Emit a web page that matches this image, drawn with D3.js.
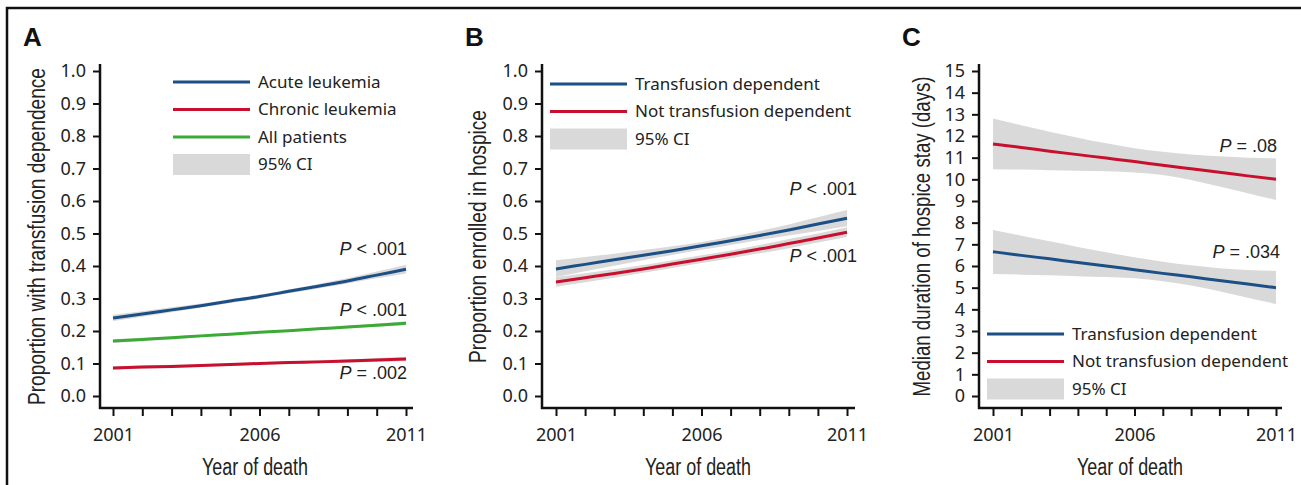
<!DOCTYPE html>
<html lang="en">
<head>
  <meta charset="UTF-8" />
  <title>Transfusion dependence and hospice</title>
  <script src="https://d3js.org/d3.v7.min.js"></script>
  <style>
    body { margin: 0; background: #fff; }
    .tick text { font-family: "Noto Sans", "Open Sans", sans-serif; font-size: 18px; fill: #222; }
    .axis-title { font-family: "Liberation Sans", Arial, sans-serif; font-size: 23px; fill: #222; }
    .legend text { font-family: "Noto Sans", "Open Sans", sans-serif; font-size: 17px; fill: #222; }
    .pval { font-family: "Liberation Sans", Arial, sans-serif; font-size: 18px; fill: #222; }
    .panel-letter { font-family: "Liberation Sans", Arial, sans-serif; font-weight: bold; font-size: 26px; fill: #111; }
  </style>
</head>
<body>
<svg id="chart" width="1301" height="485"></svg>
<script>
  const years = [2001, 2002, 2003, 2004, 2005, 2006, 2007, 2008, 2009, 2010, 2011];
  const yearLabels = [2001, 2006, 2011];

  // Panel A - proportion with transfusion dependence
  const acute     = [0.240, 0.252, 0.265, 0.278, 0.292, 0.306, 0.322, 0.338, 0.354, 0.372, 0.390];
  const acuteLo   = [0.231, 0.244, 0.258, 0.272, 0.286, 0.300, 0.316, 0.331, 0.346, 0.362, 0.377];
  const acuteHi   = [0.250, 0.261, 0.273, 0.285, 0.298, 0.312, 0.328, 0.345, 0.362, 0.383, 0.404];
  const chronic   = [0.086, 0.089, 0.091, 0.094, 0.097, 0.100, 0.103, 0.105, 0.108, 0.111, 0.114];
  const chronicLo = [0.081, 0.084, 0.087, 0.090, 0.093, 0.096, 0.099, 0.101, 0.103, 0.105, 0.107];
  const chronicHi = [0.091, 0.094, 0.096, 0.098, 0.101, 0.104, 0.107, 0.110, 0.113, 0.117, 0.121];
  const allPts    = [0.169, 0.174, 0.179, 0.185, 0.190, 0.196, 0.201, 0.207, 0.212, 0.218, 0.224];
  const allPtsLo  = [0.163, 0.169, 0.175, 0.181, 0.187, 0.193, 0.198, 0.203, 0.208, 0.213, 0.218];
  const allPtsHi  = [0.175, 0.179, 0.183, 0.188, 0.193, 0.199, 0.204, 0.210, 0.216, 0.223, 0.230];

  // Panel B - proportion enrolled in hospice
  const hospTd    = [0.391, 0.405, 0.419, 0.433, 0.447, 0.462, 0.478, 0.494, 0.511, 0.529, 0.547];
  const hospTdLo  = [0.366, 0.384, 0.401, 0.418, 0.434, 0.450, 0.465, 0.480, 0.494, 0.508, 0.522];
  const hospTdHi  = [0.418, 0.428, 0.438, 0.449, 0.461, 0.474, 0.490, 0.508, 0.528, 0.550, 0.572];
  const hospNtd   = [0.351, 0.364, 0.377, 0.391, 0.406, 0.421, 0.436, 0.452, 0.469, 0.486, 0.504];
  const hospNtdLo = [0.336, 0.350, 0.364, 0.379, 0.394, 0.409, 0.424, 0.439, 0.455, 0.472, 0.489];
  const hospNtdHi = [0.366, 0.378, 0.390, 0.403, 0.418, 0.433, 0.448, 0.465, 0.483, 0.500, 0.519];

  // Panel C - median duration of hospice stay (days)
  const stayNtd   = [11.63, 11.47, 11.30, 11.14, 10.98, 10.82, 10.65, 10.49, 10.33, 10.16, 10.00];
  const stayNtdLo = [10.47, 10.45, 10.42, 10.40, 10.37, 10.32, 10.20, 9.97, 9.67, 9.36, 9.05];
  const stayNtdHi = [12.81, 12.50, 12.20, 11.92, 11.66, 11.44, 11.27, 11.15, 11.06, 11.00, 10.97];
  const stayTd    = [6.66, 6.49, 6.33, 6.16, 6.00, 5.83, 5.66, 5.50, 5.33, 5.17, 5.00];
  const stayTdLo  = [5.63, 5.60, 5.57, 5.53, 5.49, 5.43, 5.30, 5.10, 4.83, 4.53, 4.25];
  const stayTdHi  = [7.66, 7.40, 7.14, 6.88, 6.64, 6.40, 6.20, 6.03, 5.90, 5.82, 5.77];

  const blue = "#1b4f85", red = "#c8102e", green = "#3bab35", ciGray = "#d9d9d9";

  const svg = d3.select("#chart");

  // outer frame (only top and left edges visible)
  svg.append("rect")
    .attr("x", 7).attr("y", 8)
    .attr("width", 1320).attr("height", 500)
    .attr("fill", "none").attr("stroke", "#111").attr("stroke-width", 2.5);

  const panels = [
    {
      letter: "A", left: 100, x0: 113, x1: 406, xEnd: 413,
      yMax: 1.0, yTicks: d3.range(0, 11).map(i => i / 10), fmt: d3.format(".1f"),
      yTitle: "Proportion with transfusion dependence", yTitleLen: 337, titleX: 45, xTitleX: 255,
      series: [
        { v: acute, lo: acuteLo, hi: acuteHi, color: blue },
        { v: allPts, lo: allPtsLo, hi: allPtsHi, color: green },
        { v: chronic, lo: chronicLo, hi: chronicHi, color: red }
      ],
      legend: { x: 173, y: 82, textX: 258, items: [["Acute leukemia", blue], ["Chronic leukemia", red], ["All patients", green]] },
      pvals: [["P", " < .001", 407, 255], ["P", " < .001", 407, 316], ["P", " = .002", 407, 379]]
    },
    {
      letter: "B", left: 542, x0: 556, x1: 847, xEnd: 855,
      yMax: 1.0, yTicks: d3.range(0, 11).map(i => i / 10), fmt: d3.format(".1f"),
      yTitle: "Proportion enrolled in hospice", yTitleLen: 253, titleX: 486, xTitleX: 698,
      series: [
        { v: hospTd, lo: hospTdLo, hi: hospTdHi, color: blue },
        { v: hospNtd, lo: hospNtdLo, hi: hospNtdHi, color: red }
      ],
      legend: { x: 550, y: 84, textX: 635, items: [["Transfusion dependent", blue], ["Not transfusion dependent", red]] },
      pvals: [["P", " < .001", 857, 195], ["P", " < .001", 857, 262]]
    },
    {
      letter: "C", left: 979, x0: 993, x1: 1276, xEnd: 1282,
      yMax: 15, yTicks: d3.range(0, 16), fmt: d3.format("d"),
      yTitle: "Median duration of hospice stay (days)", yTitleLen: 320, titleX: 930, xTitleX: 1130,
      series: [
        { v: stayNtd, lo: stayNtdLo, hi: stayNtdHi, color: red },
        { v: stayTd, lo: stayTdLo, hi: stayTdHi, color: blue }
      ],
      legend: { x: 987, y: 334, textX: 1072, items: [["Transfusion dependent", blue], ["Not transfusion dependent", red]] },
      pvals: [["P", " = .08", 1277, 152], ["P", " = .034", 1280, 258]]
    }
  ];

  panels.forEach(p => {
    const x = d3.scaleLinear().domain([2001, 2011]).range([p.x0, p.x1]);
    const y = d3.scaleLinear().domain([0, p.yMax]).range([396, 71]);
    const g = svg.append("g");

    g.append("text").attr("class", "panel-letter")
      .attr("x", p.left - 77).attr("y", 46).text(p.letter);

    // confidence bands first, then lines on top
    p.series.forEach(s => {
      const area = d3.area()
        .x((d, i) => x(years[i]))
        .y0((d, i) => y(s.lo[i]))
        .y1((d, i) => y(s.hi[i]))
        .curve(d3.curveMonotoneX);
      g.append("path").datum(s.v).attr("d", area).attr("fill", ciGray);
    });
    p.series.forEach(s => {
      const line = d3.line()
        .x((d, i) => x(years[i]))
        .y(d => y(d))
        .curve(d3.curveMonotoneX);
      g.append("path").datum(s.v).attr("d", line)
        .attr("fill", "none").attr("stroke", s.color).attr("stroke-width", 3);
    });

    // y axis
    const ya = g.append("g").attr("transform", `translate(${p.left},0)`)
      .call(d3.axisLeft(y).tickValues(p.yTicks).tickFormat(p.fmt).tickSize(7).tickPadding(7));
    ya.select(".domain").remove();
    ya.selectAll(".tick line").attr("stroke", "#111").attr("stroke-width", 2);
    g.append("line").attr("x1", p.left).attr("x2", p.left).attr("y1", 64).attr("y2", 409)
      .attr("stroke", "#111").attr("stroke-width", 2.5);

    // x axis
    const xa = g.append("g").attr("transform", "translate(0,408)")
      .call(d3.axisBottom(x).tickValues(years).tickSize(8).tickPadding(12)
        .tickFormat(d => yearLabels.includes(d) ? d : ""));
    xa.select(".domain").remove();
    xa.selectAll(".tick line").attr("stroke", "#111").attr("stroke-width", 2);
    g.append("line").attr("x1", p.left - 1).attr("x2", p.xEnd).attr("y1", 408).attr("y2", 408)
      .attr("stroke", "#111").attr("stroke-width", 2.5);

    // axis titles (condensed face squeezed to the reference widths)
    g.append("text").attr("class", "axis-title")
      .attr("transform", `translate(${p.titleX},236.5) rotate(-90)`)
      .attr("text-anchor", "middle")
      .attr("textLength", p.yTitleLen).attr("lengthAdjust", "spacingAndGlyphs")
      .text(p.yTitle);
    g.append("text").attr("class", "axis-title")
      .attr("x", p.xTitleX).attr("y", 475)
      .attr("text-anchor", "middle")
      .attr("textLength", 106).attr("lengthAdjust", "spacingAndGlyphs")
      .text("Year of death");

    // legend
    const lg = g.append("g").attr("class", "legend");
    const rowH = 27.5;
    p.legend.items.forEach((it, i) => {
      const yy = p.legend.y + i * rowH;
      lg.append("line").attr("x1", p.legend.x).attr("x2", p.legend.x + 77)
        .attr("y1", yy).attr("y2", yy).attr("stroke", it[1]).attr("stroke-width", 3);
      lg.append("text").attr("x", p.legend.textX).attr("y", yy).attr("dy", "0.35em").text(it[0]);
    });
    const ciY = p.legend.y + p.legend.items.length * rowH;
    lg.append("rect").attr("x", p.legend.x).attr("y", ciY - 10.5)
      .attr("width", 77).attr("height", 21).attr("fill", ciGray);
    lg.append("text").attr("x", p.legend.textX).attr("y", ciY).attr("dy", "0.35em").text("95% CI");

    // P values
    p.pvals.forEach(pv => {
      const t = g.append("text").attr("class", "pval")
        .attr("x", pv[2]).attr("y", pv[3]).attr("text-anchor", "end");
      t.append("tspan").attr("font-style", "italic").text(pv[0]);
      t.append("tspan").text(pv[1]);
    });
  });
</script>
</body>
</html>
